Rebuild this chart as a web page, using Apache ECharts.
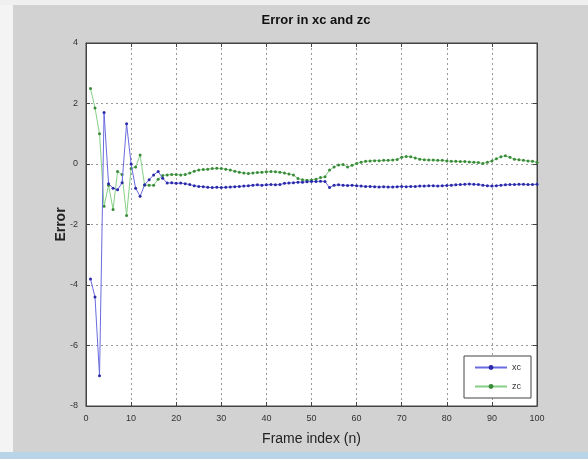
<!DOCTYPE html>
<html>
<head>
<meta charset="UTF-8">
<title>Error in xc and zc</title>
<script src="https://cdn.jsdelivr.net/npm/echarts@6/dist/echarts.min.js"></script>
<style>
    html, body { margin: 0; padding: 0; background: #fff; }
    #main { width: 588px; height: 459px; }
</style>
</head>
<body>
<div id="main"></div>
<script type="text/javascript">
    // 误差数据，帧号从 1 开始
    var xcErr = [
        -3.8, -4.4, -7.0, 1.7, -0.65, -0.8, -0.85, -0.62, 1.33, 0.0,
        -0.8, -1.07, -0.69, -0.52, -0.36, -0.25, -0.47, -0.63, -0.62, -0.64,
        -0.63, -0.65, -0.68, -0.72, -0.74, -0.75, -0.77, -0.78, -0.77, -0.78,
        -0.77, -0.76, -0.75, -0.74, -0.73, -0.72, -0.7, -0.69, -0.7, -0.69,
        -0.68, -0.69, -0.68, -0.64, -0.63, -0.62, -0.6, -0.6, -0.59, -0.58,
        -0.58, -0.57, -0.58, -0.78, -0.7, -0.69, -0.7, -0.71, -0.7, -0.72,
        -0.73, -0.74, -0.74, -0.75, -0.76, -0.75, -0.76, -0.76, -0.75, -0.74,
        -0.75, -0.74, -0.74, -0.73, -0.73, -0.72, -0.72, -0.73, -0.72, -0.71,
        -0.7, -0.69, -0.68, -0.67, -0.66, -0.67, -0.68, -0.7, -0.72, -0.73,
        -0.72, -0.7, -0.69, -0.68, -0.68, -0.67, -0.67, -0.68, -0.68, -0.67
    ];
    var zcErr = [
        2.5, 1.85, 1.0, -1.4, -0.7, -1.5, -0.25, -0.35, -1.7, -0.15,
        -0.1, 0.3, -0.7, -0.7, -0.7, -0.5, -0.38, -0.36, -0.35, -0.35,
        -0.36, -0.35, -0.3, -0.24, -0.2, -0.18, -0.17, -0.15, -0.14, -0.15,
        -0.17, -0.2, -0.24, -0.27, -0.3, -0.31, -0.3, -0.28, -0.27, -0.26,
        -0.25, -0.26, -0.27, -0.3, -0.33, -0.36, -0.48, -0.52, -0.54, -0.53,
        -0.5, -0.45, -0.42, -0.2, -0.1, -0.03, -0.02, -0.1, -0.04, 0.02,
        0.06, 0.09, 0.1, 0.11, 0.11, 0.12, 0.12, 0.13, 0.15, 0.22,
        0.25, 0.24, 0.2, 0.16, 0.14, 0.13, 0.13, 0.12, 0.12, 0.1,
        0.09, 0.09, 0.08, 0.08, 0.07, 0.06, 0.05, 0.02, 0.06, 0.1,
        0.17, 0.24, 0.27, 0.22, 0.16, 0.14, 0.12, 0.1, 0.09, 0.06
    ];
    var seriesNames = ['xc', 'zc'];
    var xTicks = [0, 100, 10];   // min, max, interval
    var yTicks = [-8, 4, 2];

    function toPairs(arr) {
        var out = [];
        for (var i = 0; i < arr.length; i++) {
            out.push([i + 1, arr[i]]);
        }
        return out;
    }

    var myChart = echarts.init(document.getElementById('main'));

    var labelStyle = { color: '#333', fontSize: 9, fontFamily: 'Liberation Sans' };
    var splitStyle = { show: true, lineStyle: { color: '#999', type: [2, 3], width: 1 } };
    var frameLine = { onZero: false, lineStyle: { color: '#444' } };
    var tickIn = { inside: true, length: 4, lineStyle: { color: '#444' } };

    var option = {
        backgroundColor: '#d2d2d2',
        animation: false,
        graphic: [
            { type: 'rect', left: 0, top: 0, shape: { width: 13, height: 459 }, style: { fill: '#f4f4f4' } },
            { type: 'rect', left: 0, top: 0, shape: { width: 588, height: 5 }, style: { fill: '#f0f0f0' } },
            { type: 'rect', left: 0, top: 452, shape: { width: 588, height: 7 }, style: { fill: '#b9d4e6' } }
        ],
        title: {
            text: 'Error in xc and zc',
            left: 311,
            top: 9,
            textAlign: 'center',
            textStyle: { fontSize: 13, fontWeight: 'bold', color: '#111', fontFamily: 'Liberation Sans' }
        },
        grid: {
            left: 86, right: 51, top: 43, bottom: 53,
            show: true, backgroundColor: '#fff', borderColor: '#444', borderWidth: 1
        },
        legend: {
            data: seriesNames,
            orient: 'vertical',
            left: 464,
            top: 356,
            backgroundColor: '#fff',
            borderColor: '#444',
            borderWidth: 1,
            padding: [7, 10, 7, 10],
            itemGap: 10,
            itemWidth: 32,
            itemHeight: 6,
            textStyle: { fontSize: 9, color: '#333' }
        },
        xAxis: [
            {
                type: 'value',
                min: xTicks[0], max: xTicks[1], interval: xTicks[2],
                name: 'Frame index (n)',
                nameLocation: 'middle',
                nameGap: 26,
                nameMoveOverlap: false,
                nameTextStyle: { fontSize: 14, color: '#222', fontFamily: 'Liberation Sans' },
                axisLine: frameLine,
                axisTick: tickIn,
                axisLabel: labelStyle,
                splitLine: splitStyle
            },
            {
                type: 'value', position: 'top',
                min: xTicks[0], max: xTicks[1], interval: xTicks[2],
                axisLine: frameLine,
                axisTick: tickIn,
                axisLabel: { show: false },
                splitLine: { show: false }
            }
        ],
        yAxis: [
            {
                type: 'value',
                min: yTicks[0], max: yTicks[1], interval: yTicks[2],
                name: 'Error',
                nameLocation: 'middle',
                nameGap: 18,
                nameMoveOverlap: false,
                nameTextStyle: { fontSize: 14, fontWeight: 'bold', color: '#222', fontFamily: 'Liberation Sans' },
                axisLine: frameLine,
                axisTick: tickIn,
                axisLabel: labelStyle,
                splitLine: splitStyle
            },
            {
                type: 'value', position: 'right',
                min: yTicks[0], max: yTicks[1], interval: yTicks[2],
                axisLine: frameLine,
                axisTick: tickIn,
                axisLabel: { show: false },
                splitLine: { show: false }
            }
        ],
        series: [
            {
                name: seriesNames[0],
                type: 'line',
                data: toPairs(xcErr),
                symbol: 'circle',
                symbolSize: 3,
                lineStyle: { color: '#6a6ae0', width: 1 },
                itemStyle: { color: '#2a2aa8' },
                z: 3
            },
            {
                name: seriesNames[1],
                type: 'line',
                data: toPairs(zcErr),
                symbol: 'circle',
                symbolSize: 3,
                lineStyle: { color: '#86cf86', width: 1 },
                itemStyle: { color: '#3a8a3a' },
                z: 2
            }
        ]
    };

    myChart.setOption(option);
</script>
</body>
</html>
